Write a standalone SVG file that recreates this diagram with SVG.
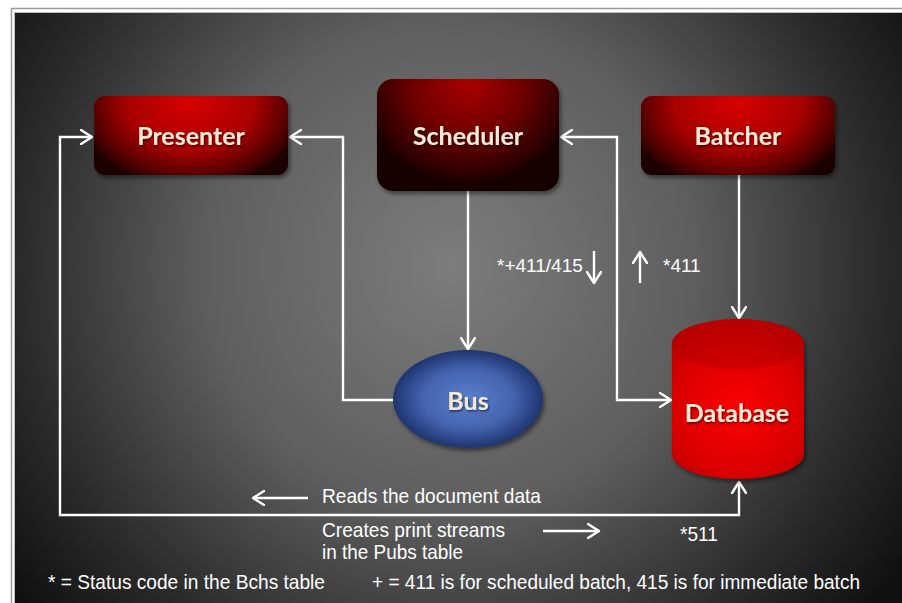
<svg xmlns="http://www.w3.org/2000/svg" width="902" height="603" viewBox="0 0 902 603">
<defs>
<radialGradient id="bg" gradientUnits="userSpaceOnUse" cx="450" cy="265" r="545">
<stop offset="0" stop-color="#7c7c7c"/>
<stop offset="0.45" stop-color="#5e5e5e"/>
<stop offset="0.78" stop-color="#2c2c2c"/>
<stop offset="1" stop-color="#101010"/>
</radialGradient>
<radialGradient id="redBox" cx="0.5" cy="0.1" r="0.6" fx="0.5" fy="0.1" gradientTransform="translate(0.5,0.1) scale(1,1.8) translate(-0.5,-0.1)">
<stop offset="0" stop-color="#d60000"/>
<stop offset="0.55" stop-color="#a80000"/>
<stop offset="0.88" stop-color="#4a0000"/>
<stop offset="1" stop-color="#1a0000"/>
</radialGradient>
<radialGradient id="darkBox" cx="0.5" cy="0.05" r="0.6" fx="0.5" fy="0.05" gradientTransform="translate(0.5,0.05) scale(1,1.5) translate(-0.5,-0.05)">
<stop offset="0" stop-color="#a80000"/>
<stop offset="0.5" stop-color="#700000"/>
<stop offset="0.9" stop-color="#2a0000"/>
<stop offset="1" stop-color="#160000"/>
</radialGradient>
<radialGradient id="blue" cx="0.5" cy="0.5" r="0.5">
<stop offset="0" stop-color="#5c7fcc"/>
<stop offset="0.6" stop-color="#4464b0"/>
<stop offset="1" stop-color="#1f356f"/>
</radialGradient>
<radialGradient id="dbBody" gradientUnits="userSpaceOnUse" cx="738" cy="410" r="95">
<stop offset="0" stop-color="#ff0000"/>
<stop offset="0.7" stop-color="#d80000"/>
<stop offset="1" stop-color="#b00000"/>
</radialGradient>
<filter id="shadow" x="-10%" y="-10%" width="130%" height="130%">
<feDropShadow dx="2" dy="3" stdDeviation="2" flood-color="#000" flood-opacity="0.45"/>
</filter>
<filter id="tshadow" x="-10%" y="-20%" width="130%" height="150%">
<feDropShadow dx="1" dy="1.5" stdDeviation="0.8" flood-color="#000" flood-opacity="0.6"/>
</filter>
<marker id="arr" viewBox="0 0 14 16" refX="12" refY="8" markerWidth="14" markerHeight="16" markerUnits="userSpaceOnUse" orient="auto-start-reverse">
<path d="M1,1 L12,8 L1,15" fill="none" stroke="#fff" stroke-width="2.4" stroke-linecap="round" stroke-linejoin="round"/>
</marker>
</defs>
<style>
.lbl{font-family:Lato,"Open Sans",sans-serif;font-weight:bold;font-size:25px;fill:#f2ead8;text-anchor:middle;filter:url(#tshadow)}
.note{font-family:"Liberation Sans",Arial,sans-serif;font-size:19px;fill:#fff}
.nar{font-family:"Liberation Sans",Arial,sans-serif;font-size:21px;fill:#fff}
.con{fill:none;stroke:#fff;stroke-width:2.4;marker-end:url(#arr)}
</style>
<rect x="0" y="0" width="902" height="603" fill="#fff"/>
<path d="M11.5,603 V8.5 H902" fill="none" stroke="#9a9a9a" stroke-width="1.5"/>
<rect x="14.5" y="12.5" width="900" height="600" fill="url(#bg)" stroke="#bdbdbd" stroke-width="1"/>

<g id="connectors">
<path class="con" d="M393,400 H343 V137 H290"/>
<path class="con" d="M739,482 V515 H60 V137 H92" marker-start="url(#arr)"/>
<path class="con" d="M468,191 V349"/>
<path class="con" d="M561,137 H617 V400 H671" marker-start="url(#arr)"/>
<path class="con" d="M739,175 V318"/>
<path class="con" d="M594,251 V283"/>
<path class="con" d="M640,283 V252"/>
<path class="con" d="M308,498 H253"/>
<path class="con" d="M543,531 H599"/>
</g>

<g id="presenter">
<rect x="94" y="96" width="194" height="79" rx="11" fill="url(#redBox)" filter="url(#shadow)"/>
<text class="lbl" x="191" y="145">Presenter</text>
</g>
<g id="scheduler">
<rect x="377" y="79" width="182" height="112" rx="16" fill="url(#darkBox)" filter="url(#shadow)"/>
<text class="lbl" x="468" y="145">Scheduler</text>
</g>
<g id="batcher">
<rect x="641" y="96" width="194" height="79" rx="11" fill="url(#redBox)" filter="url(#shadow)"/>
<text class="lbl" x="738" y="145">Batcher</text>
</g>
<g id="bus">
<ellipse cx="468" cy="399" rx="75" ry="49" fill="url(#blue)" filter="url(#shadow)"/>
<text class="lbl" x="468" y="410">Bus</text>
</g>
<g id="database">
<path d="M672,344 A66,25 0 0 1 804,344 V454 A66,25 0 0 1 672,454 Z" fill="url(#dbBody)" filter="url(#shadow)"/>
<ellipse cx="738" cy="344" rx="66" ry="25" fill="#b80000" opacity="0.55"/>
<text class="lbl" x="737" y="422">Database</text>
</g>

<g id="labels">
<text class="note" x="497" y="272">*+411/415</text>
<text class="note" x="663" y="272">*411</text>
<text class="nar" x="322" y="503" textLength="219" lengthAdjust="spacingAndGlyphs">Reads the document data</text>
<text class="nar" x="322" y="537" textLength="183" lengthAdjust="spacingAndGlyphs">Creates print streams</text>
<text class="nar" x="322" y="559" textLength="141" lengthAdjust="spacingAndGlyphs">in the Pubs table</text>
<text class="nar" x="680" y="541" textLength="38" lengthAdjust="spacingAndGlyphs">*511</text>
<text class="nar" x="48" y="589" textLength="277" lengthAdjust="spacingAndGlyphs">* = Status code in the Bchs table</text>
<text class="nar" transform="matrix(0.84,0,0,1,372,589)" x="0" y="0" textLength="581" lengthAdjust="spacingAndGlyphs">+ = 411 is for scheduled batch, 415 is for immediate batch</text>
</g>
</svg>
